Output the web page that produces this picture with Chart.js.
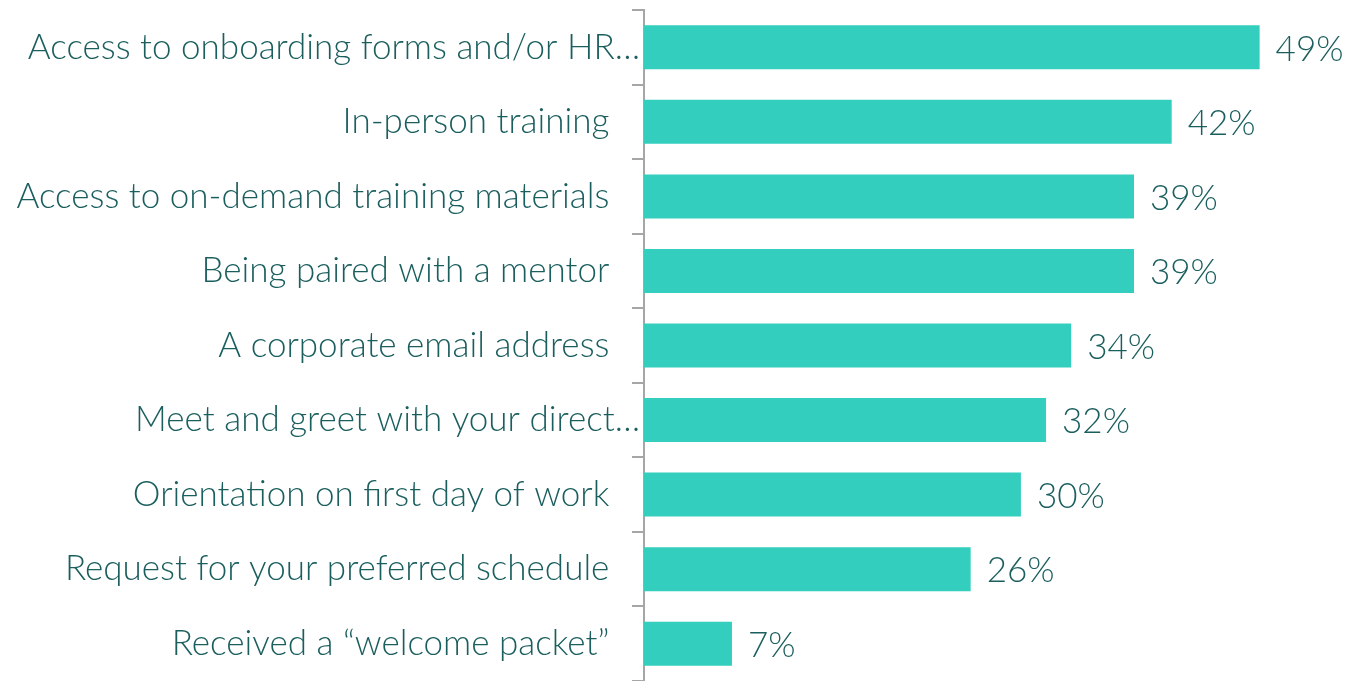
<!DOCTYPE html>
<html>
<head>
<meta charset="utf-8">
<script src="https://cdn.jsdelivr.net/npm/chart.js@4.4.1/dist/chart.umd.min.js"></script>
<style>
  html, body { margin: 0; padding: 0; background: #fff; }
  #wrap { width: 1356px; height: 681px; position: relative; }
</style>
</head>
<body>
<div id="wrap"><canvas id="chart"></canvas></div>
<script>
'use strict';

// ── Data ──
const categories = [
  'Access to onboarding forms and/or HR…',
  'In-person training',
  'Access to on-demand training materials',
  'Being paired with a mentor',
  'A corporate email address',
  'Meet and greet with your direct…',
  'Orientation on first day of work',
  'Request for your preferred schedule',
  'Received a \u201cwelcome packet\u201d',
];
const shares = [49, 42, 39, 39, 34, 32, 30, 26, 7];

// ── Style ──
const BAR_COLOR  = '#33cebd';
const TEXT_COLOR = '#1b5e5e';
const AXIS_COLOR = '#a6a6a6';
const FONT = { family: 'Lato, "Open Sans", sans-serif', size: 35, weight: '300' };

// value labels right of each bar
const valueLabels = {
  id: 'valueLabels',
  afterDatasetsDraw(chart) {
    const { ctx } = chart;
    const meta = chart.getDatasetMeta(0);
    ctx.save();
    ctx.font = `${FONT.weight} ${FONT.size}px ${FONT.family}`;
    ctx.fillStyle = TEXT_COLOR;
    ctx.textAlign = 'left';
    ctx.textBaseline = 'middle';
    meta.data.forEach((bar, i) => {
      ctx.fillText(shares[i] + '%', bar.x + 16, bar.y + 2);
    });
    ctx.restore();
  }
};

new Chart(document.getElementById('chart'), {
  type: 'bar',
  data: {
    labels: categories,
    datasets: [{
      data: shares,
      backgroundColor: BAR_COLOR,
      borderWidth: 0,
      categoryPercentage: 1,
      barPercentage: 0.59,
    }],
  },
  options: {
    indexAxis: 'y',
    responsive: true,
    maintainAspectRatio: false,
    animation: false,
    layout: { padding: { top: 10, right: 21, bottom: 0, left: 0 } },
    plugins: { legend: { display: false }, tooltip: { enabled: false } },
    scales: {
      x: {
        display: false,
        min: 0,
        max: 55,
      },
      y: {
        offset: true,
        afterFit(scale) {
          scale.width = 644;
          // axis runs the full height, no room kept for label overhang
          scale.paddingTop = 0;
          scale.paddingBottom = 0;
        },
        border: { display: true, color: AXIS_COLOR, width: 2 },
        grid: {
          offset: true,
          drawOnChartArea: false,
          drawTicks: true,
          tickLength: 12,
          color: AXIS_COLOR,
          lineWidth: 2,
        },
        ticks: {
          color: TEXT_COLOR,
          font: FONT,
          padding: -8,
          autoSkip: false,
          callback(value, i) {
            const s = categories[i];
            // full labels sit clear of the axis; truncated ones run up to it
            return s.endsWith('…') ? s : s + '\u2003\u2009';
          },
        },
      },
    },
  },
  plugins: [valueLabels],
});
</script>
</body>
</html>
